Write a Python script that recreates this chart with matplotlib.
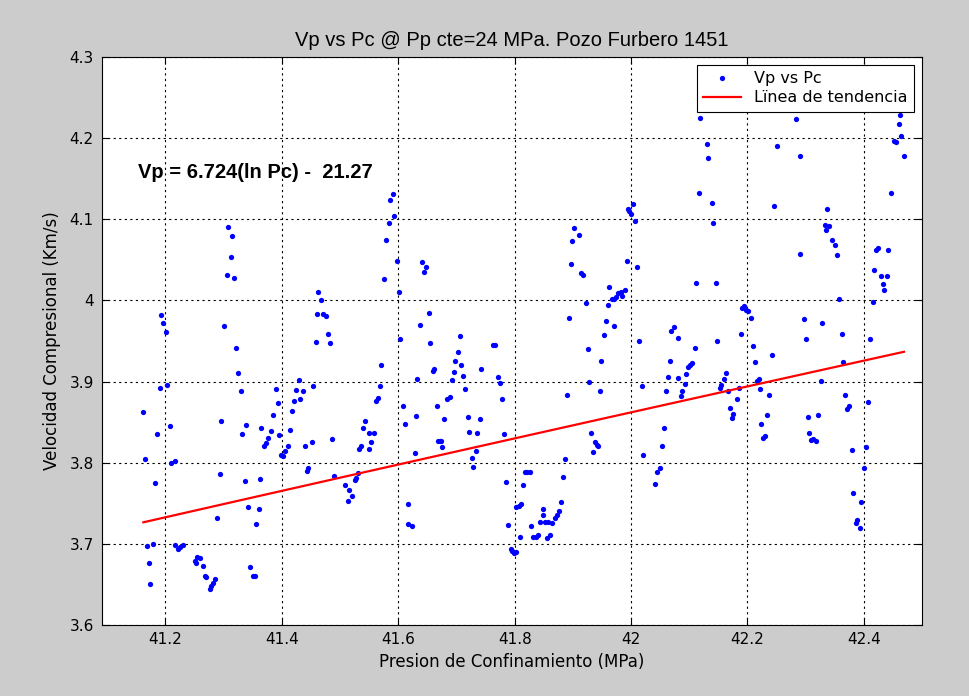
import matplotlib
matplotlib.use("Agg")
import matplotlib.pyplot as plt
import numpy as np
from matplotlib.ticker import FuncFormatter

plt.rcParams["font.family"] = ["DejaVu Sans"]
plt.rcParams["font.size"] = 11

# Pc (MPa)
pc = [41.162, 41.165, 41.169, 41.171, 41.174, 41.179, 41.182, 41.186, 41.190, 41.193,
      41.196, 41.201, 41.203, 41.207, 41.210, 41.216, 41.217, 41.222, 41.225, 41.230,
      41.250, 41.255, 41.253, 41.260, 41.264, 41.268, 41.270, 41.285, 41.282, 41.278,
      41.276, 41.288, 41.293, 41.295, 41.300, 41.308, 41.315, 41.312, 41.305, 41.317,
      41.322, 41.324, 41.329, 41.331, 41.336, 41.338,
      41.342, 41.346, 41.350, 41.353, 41.356, 41.361, 41.363, 41.365, 41.370, 41.373,
      41.377, 41.382, 41.385, 41.390, 41.393, 41.395, 41.399, 41.402, 41.406, 41.410,
      41.414, 41.417, 41.421, 41.425, 41.429, 41.432, 41.436, 41.439, 41.443, 41.445,
      41.451, 41.453, 41.458, 41.462, 41.468, 41.460, 41.470, 41.475, 41.479, 41.482,
      41.486, 41.489, 41.508, 41.513, 41.516, 41.521, 41.525, 41.528,
      41.531, 41.533, 41.536, 41.550, 41.554, 41.549, 41.558, 41.540, 41.543, 41.562,
      41.565, 41.569, 41.571, 41.576, 41.579, 41.584, 41.586, 41.591, 41.593, 41.598,
      41.601, 41.603, 41.609, 41.611, 41.616, 41.617, 41.623, 41.628, 41.630, 41.632,
      41.637, 41.640, 41.647, 41.644, 41.652, 41.655, 41.659, 41.662, 41.666, 41.669,
      41.671, 41.673, 41.676, 41.678, 41.683, 41.689, 41.692, 41.696, 41.697, 41.703,
      41.706, 41.708, 41.712, 41.715,
      41.719, 41.722, 41.726, 41.728, 41.733, 41.736, 41.740, 41.743, 41.763, 41.767,
      41.772, 41.775, 41.779, 41.782, 41.786, 41.789, 41.793, 41.796, 41.799, 41.802,
      41.802, 41.807, 41.811, 41.809, 41.815, 41.818, 41.822, 41.826, 41.828, 41.832,
      41.836, 41.840, 41.844, 41.848, 41.849, 41.853, 41.858, 41.856, 41.861, 41.865,
      41.869, 41.872, 41.876, 41.879, 41.883, 41.886, 41.890, 41.893, 41.897, 41.899,
      41.902,
      41.910, 41.914, 41.918, 41.922, 41.926, 41.927, 41.931, 41.938, 41.941, 41.944,
      41.934, 41.946, 41.948, 41.953, 41.957, 41.960, 41.963, 41.967, 41.971, 41.975,
      41.978, 41.982, 41.985, 41.990, 41.970, 41.993, 41.994, 41.997, 42.000, 42.004,
      42.007, 42.011, 42.014, 42.018, 42.021, 42.042, 42.045, 42.050, 42.053, 42.057,
      42.060, 42.064, 42.067, 42.069, 42.073, 42.080, 42.081, 42.086, 42.088, 42.092,
      42.094, 42.098, 42.102, 42.104, 42.110, 42.112, 42.117, 42.119, 42.131, 42.133,
      42.139, 42.141, 42.146, 42.147, 42.153, 42.155, 42.159, 42.163, 42.166, 42.170,
      42.173, 42.176, 42.182, 42.185, 42.189, 42.191, 42.194, 42.198, 42.201, 42.206,
      42.209, 42.213, 42.217, 42.220, 42.222, 42.223, 42.227, 42.230, 42.234, 42.237,
      42.243, 42.245, 42.250,
      42.284, 42.290, 42.291, 42.297, 42.300, 42.304, 42.306, 42.309, 42.313, 42.318,
      42.321, 42.326, 42.329, 42.337, 42.333, 42.335, 42.341, 42.345, 42.350, 42.354,
      42.357, 42.362, 42.365, 42.367, 42.371, 42.374, 42.379, 42.381, 42.386, 42.389,
      42.393, 42.395, 42.400, 42.403, 42.408, 42.411, 42.416, 42.418, 42.421, 42.424,
      42.430, 42.440, 42.433, 42.434, 42.442, 42.447, 42.452, 42.456, 42.460, 42.464,
      42.462, 42.469]

# Vp (Km/s)
vp = [3.863, 3.805, 3.697, 3.677, 3.651, 3.700, 3.775, 3.835, 3.892, 3.982,
      3.972, 3.961, 3.896, 3.845, 3.800, 3.802, 3.698, 3.694, 3.696, 3.698,
      3.679, 3.684, 3.677, 3.682, 3.673, 3.660, 3.659, 3.657, 3.652, 3.648,
      3.644, 3.732, 3.786, 3.851, 3.968, 4.091, 4.079, 4.053, 4.032, 4.028,
      3.941, 3.910, 3.889, 3.835, 3.777, 3.847,
      3.745, 3.672, 3.661, 3.661, 3.724, 3.743, 3.780, 3.843, 3.821, 3.824,
      3.830, 3.839, 3.859, 3.891, 3.874, 3.834, 3.810, 3.808, 3.815, 3.821,
      3.840, 3.864, 3.876, 3.890, 3.902, 3.878, 3.889, 3.821, 3.790, 3.794,
      3.825, 3.894, 3.949, 4.011, 4.000, 3.983, 3.983, 3.981, 3.959, 3.947,
      3.829, 3.784, 3.773, 3.753, 3.767, 3.759, 3.779, 3.781,
      3.787, 3.817, 3.821, 3.817, 3.826, 3.837, 3.837, 3.843, 3.851, 3.876,
      3.880, 3.894, 3.921, 4.027, 4.075, 4.095, 4.124, 4.131, 4.104, 4.049,
      4.011, 3.952, 3.870, 3.848, 3.749, 3.724, 3.722, 3.812, 3.858, 3.903,
      3.970, 4.048, 4.041, 4.035, 3.984, 3.948, 3.913, 3.915, 3.870, 3.827,
      3.827, 3.827, 3.819, 3.854, 3.879, 3.881, 3.902, 3.912, 3.926, 3.937,
      3.956, 3.921, 3.907, 3.891,
      3.856, 3.838, 3.806, 3.795, 3.814, 3.837, 3.854, 3.916, 3.945, 3.945,
      3.906, 3.898, 3.879, 3.835, 3.776, 3.723, 3.694, 3.691, 3.689, 3.690,
      3.745, 3.747, 3.749, 3.709, 3.772, 3.788, 3.789, 3.789, 3.722, 3.709,
      3.709, 3.711, 3.727, 3.736, 3.743, 3.727, 3.727, 3.707, 3.711, 3.726,
      3.732, 3.736, 3.740, 3.751, 3.783, 3.805, 3.883, 3.978, 4.045, 4.073,
      4.089,
      4.081, 4.034, 4.032, 3.997, 3.940, 3.899, 3.837, 3.825, 3.822, 3.821,
      3.813, 3.888, 3.926, 3.958, 3.975, 3.995, 4.016, 4.002, 4.002, 4.004,
      4.009, 4.010, 4.006, 4.013, 3.968, 4.049, 4.113, 4.110, 4.107, 4.119,
      4.098, 4.041, 3.950, 3.895, 3.810, 3.774, 3.788, 3.794, 3.821, 3.843,
      3.889, 3.906, 3.926, 3.962, 3.967, 3.954, 3.905, 3.882, 3.889, 3.897,
      3.909, 3.918, 3.921, 3.923, 3.941, 4.022, 4.133, 4.225, 4.193, 4.176,
      4.120, 4.095, 4.022, 3.950, 3.892, 3.896, 3.903, 3.910, 3.888, 3.867,
      3.855, 3.860, 3.879, 3.892, 3.959, 3.991, 3.993, 3.988, 3.987, 3.979,
      3.944, 3.924, 3.901, 3.903, 3.891, 3.848, 3.830, 3.833, 3.859, 3.884,
      3.933, 4.116, 4.190,
      4.224, 4.178, 4.057, 3.977, 3.953, 3.856, 3.837, 3.828, 3.829, 3.827,
      3.859, 3.901, 3.972, 4.113, 4.093, 4.087, 4.092, 4.075, 4.068, 4.056,
      4.002, 3.959, 3.924, 3.883, 3.866, 3.870, 3.816, 3.763, 3.726, 3.730,
      3.720, 3.751, 3.794, 3.819, 3.875, 3.953, 3.998, 4.038, 4.062, 4.065,
      4.030, 4.030, 4.020, 4.013, 4.062, 4.133, 4.197, 4.195, 4.217, 4.203,
      4.228, 4.178]

# trend fit shown on chart: Vp = a*ln(Pc) + b
coef_a = 6.724
coef_b = -21.27

pc = np.array(pc)
vp = np.array(vp)
pc_line = np.linspace(pc.min(), pc.max(), 50)
vp_line = coef_a * np.log(pc_line) + coef_b

fig = plt.figure(figsize=(9.69, 6.96), dpi=100, facecolor='#cccccc')
ax = fig.add_axes([0.1053, 0.102, 0.8462, 0.816])
ax.set_facecolor('white')

ax.plot(pc, vp, 'o', color='#0000ff', markersize=3.8, markeredgewidth=0, label='Vp vs Pc')
ax.plot(pc_line, vp_line, '-', color='#ff0000', linewidth=1.6, label='Lïnea de tendencia')

ax.set_xlim(41.091, 42.5)
ax.set_ylim(3.6, 4.3)
ax.set_xticks([41.2, 41.4, 41.6, 41.8, 42.0, 42.2, 42.4])
ax.set_yticks([3.6, 3.7, 3.8, 3.9, 4.0, 4.1, 4.2, 4.3])
fmt = FuncFormatter(lambda v, p: '%g' % round(v, 3))
ax.xaxis.set_major_formatter(fmt)
ax.yaxis.set_major_formatter(fmt)
ax.tick_params(direction='in', top=True, right=True, length=5, width=0.8,
               colors='black', labelsize=11)
ax.tick_params(axis='x', pad=5)
ax.tick_params(axis='y', pad=6)
ax.grid(True, color='black', linestyle=(0, (2, 3)), linewidth=0.8)
for s in ax.spines.values():
    s.set_color('black')
    s.set_linewidth(0.8)

ax.set_title('Vp vs Pc @ Pp cte=24 MPa. Pozo Furbero 1451', fontsize=14.5,
             family=['Liberation Sans'], pad=8)
ax.set_xlabel('Presion de Confinamiento (MPa)', fontsize=12, labelpad=4)
ax.set_ylabel('Velocidad Compresional (Km/s)', fontsize=12, labelpad=6)

ax.text(41.152, 4.158, 'Vp = 6.724(ln Pc) -  21.27', fontsize=14.5, fontweight='bold',
        family=['Liberation Sans'], va='center', ha='left')

leg = ax.legend(loc='upper right', fancybox=False, framealpha=1, edgecolor='black',
                fontsize=11.5, borderaxespad=0.5, handlelength=2.4, handletextpad=0.8,
                labelspacing=0.25, borderpad=0.4)
leg.get_frame().set_linewidth(0.8)

fig.savefig('out.png', dpi=100, facecolor=fig.get_facecolor())
